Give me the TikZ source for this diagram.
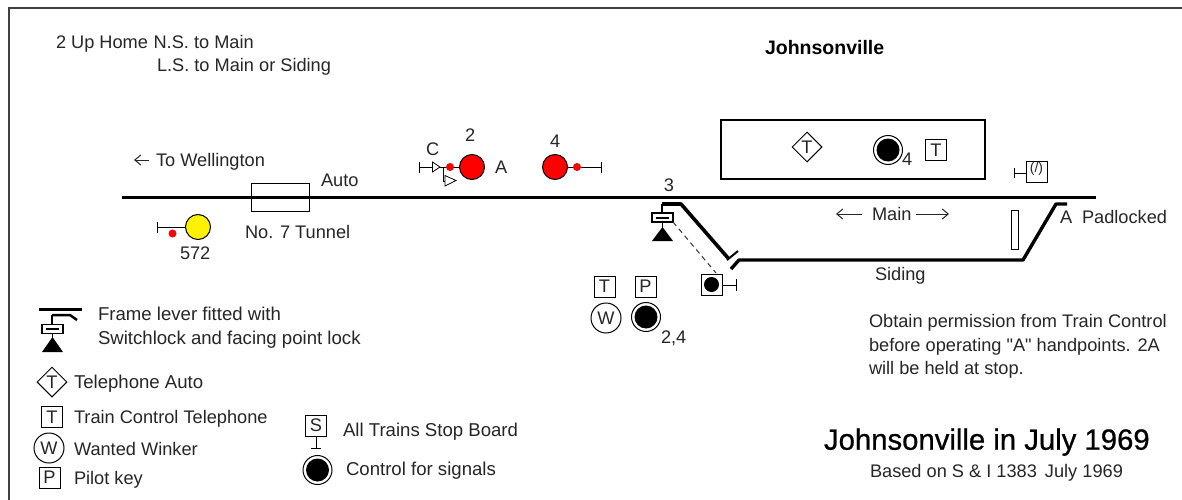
\documentclass[tikz,border=0pt]{standalone}
\usepackage{fontspec}
\setmainfont{Liberation Sans}[Ligatures=TeXOff]
\newfontfamily\bigfont{Liberation Sans}[FakeBold=0.7]
\usetikzlibrary{shapes.geometric,arrows.meta}
\newcommand{\bodyfont}{\fontsize{18.2}{18.2}\selectfont}
\newcommand{\widefont}{\fontsize{18.6}{18.6}\selectfont}
\tikzset{
  x=1pt,y=-1pt,
  txt/.style={anchor=base west,inner sep=0pt,outer sep=0pt,text=black!85,font=\bodyfont,yshift=-0.7pt},
  ctr/.style={inner sep=0pt,outer sep=0pt,text=black!85,font=\bodyfont},
  frameline/.style={line width=1.3pt,black!75},
  track/.style={line width=3pt,black},
  sqbox/.style={draw=black,line width=1pt,minimum size=21pt,inner sep=0pt,fill=white,text=black!85,font=\bodyfont},
  diam/.style={draw=black,line width=1pt,diamond,aspect=1,minimum size=30pt,inner sep=0pt,fill=white,text=black!85,font=\bodyfont},
  winker/.style={draw=black,line width=1pt,circle,minimum size=30pt,inner sep=0pt,fill=white,text=black!85,font=\bodyfont},
  ctrlring/.style={draw=black,line width=1pt,circle,minimum size=29pt,inner sep=0pt,fill=white},
  ctrlcore/.style={fill=black,circle,minimum size=23pt,inner sep=0pt},
  redsig/.style={draw=black,line width=1pt,circle,minimum size=25pt,inner sep=0pt,fill=red},
  yelsig/.style={draw=black,line width=1pt,circle,minimum size=25pt,inner sep=0pt,fill=yellow},
  reddot/.style={fill=red,circle,minimum size=8pt,inner sep=0pt},
  arm/.style={line width=1pt,black},
  lockbox/.style={draw=black,line width=1.2pt,minimum width=21pt,minimum height=9pt,inner sep=0pt,fill=white},
  pointer/.style={draw=black,line width=.8pt,fill=white},
  flow/.style={-{Straight Barb[length=6pt,width=10pt]},line width=1pt,black!85},
}
\begin{document}
\begin{tikzpicture}
\useasboundingbox (0,0) rectangle (1182,500);
\fill[white] (0,0) rectangle (1182,500);
% frame
\coordinate (fa) at (9,500); \coordinate (fb) at (9,8); \coordinate (fc) at (1182,8);
\draw[frameline] (fa) -- (fb) -- (fc);
% header text
\node[txt] (h1) at (56,47.5) {2 Up Home\hspace{0.5pt} N.S. to Main};
\node[txt] (h2) at (157,71) {L.S. to Main or Siding};
\node[txt,font=\fontsize{19.5}{19.5}\selectfont\bfseries,text=black] (ttl) at (765,54) {Johnsonville};
% main line
\coordinate (mw) at (122,197); \coordinate (me) at (1096,197);
\draw[track] (mw) -- (me);
% wellington
\node[txt] (tw) at (156,165.5) {To Wellington};
\coordinate (twa) at (134,160); \coordinate (twb) at (149,160);
\draw[flow] (twb) -- (twa);
% tunnel
\node[draw=black,line width=1pt,minimum width=58pt,minimum height=28pt,inner sep=0pt] (tun) at (280,197) {};
\node[txt] (auto) at (321,185.5) {Auto};
\node[txt] (tunl) at (245,237.5) {No. 7 Tunnel};
% signal 572
\node[yelsig] (s572) at (198,227) {};
\coordinate (e572) at (157,227);
\draw[arm] (s572) -- (e572);
\draw[arm] (157,222) -- (157,233);
\node[reddot] (d572) at (172.5,233.5) {};
\node[txt] (l572) at (180,259) {572};
% signal 2
\node[redsig] (s2) at (472,167) {};
\coordinate (e2) at (419,167);
\draw[arm] (s2) -- (e2);
\draw[arm] (419,162) -- (419,173);
\node[reddot] (d2) at (450,167) {};
\draw[pointer] (432.5,162) -- (440,167) -- (432.5,172) -- cycle;
\draw[arm] (443,167) -- (443,181) -- (446,181);
\draw[pointer] (445,175.5) -- (456,180.5) -- (445,186) -- cycle;
\node[txt] (lc) at (426,154.5) {C};
\node[txt] (l2) at (465,140.5) {2};
\node[txt] (la) at (495,172.5) {A};
% signal 4
\node[redsig] (s4) at (555,167) {};
\coordinate (e4) at (601,167);
\draw[arm] (s4) -- (e4);
\draw[arm] (601,162) -- (601,173);
\node[reddot] (d4) at (577,167) {};
\node[txt] (l4) at (550,146.5) {4};
% building
\node[draw=black,line width=1.3pt,minimum width=264pt,minimum height=59pt,inner sep=0pt] (bld) at (853,149.5) {};
\node[diam] (dt) at (807,147) {T};
\node[ctrlring] (c4) at (888,150) {};
\node[ctrlcore] at (c4) {};
\node[txt] (l4b) at (902,165) {4};
\node[sqbox] (tb) at (936,150) {T};
% padlock box
\node[sqbox] (pb) at (1036.5,171.5) {};
\node[inner sep=0pt,font=\fontsize{14}{14}\selectfont,text=black!85] at (1036.5,169) {(/)};
\coordinate (pe) at (1014,173);
\draw[arm] (pb.west |- pe) -- (pe);
\draw[arm] (1014,168) -- (1014,178);
% points
\node[ctr] (l3) at (669,185) {3};
\coordinate (p0) at (662,212); \coordinate (p1) at (662,204); \coordinate (p2) at (681,204); \coordinate (p3) at (728,258);
\draw[line width=1.5pt] (p0) -- (p1);
\draw[line width=3.6pt,black,line join=round] (p1) -- (p2) -- (p3);
\coordinate (t1) at (727,260); \coordinate (t2) at (738,251);
\draw[line width=2pt] (t1) -- (t2);
\coordinate (sa) at (731,269); \coordinate (sb) at (739,260); \coordinate (sc) at (1023,260); \coordinate (sd) at (1056,204); \coordinate (se) at (1067,204);
\draw[line width=3.4pt,black,line join=round] (sa) -- (sb) -- (sc) -- (sd) -- (se);
\node[lockbox] (lb) at (662.5,217.5) {};
\coordinate (lba) at (656,217.5); \coordinate (lbb) at (669,217.5);
\draw[line width=2pt] (lba) -- (lbb);
\path[fill=black] (662.5,227) -- (673,241) -- (652,241) -- cycle;
\coordinate (tap) at (662.5,228);
\draw[line width=1pt] (lb) -- (tap);
\coordinate (pte) at (736,285);
\draw[line width=1pt,black!80,dashed,dash pattern=on 5pt off 4pt] (673,222) -- (716,273);
\node[sqbox] (ptb2) at (711.5,284.5) {};
\node[fill=black,circle,minimum size=15pt,inner sep=0pt] at (ptb2) {};
\draw[arm] (ptb2.east |- pte) -- (pte);
\draw[arm] (736,279) -- (736,291);
% main arrows
\node[txt] (mn) at (872,219.5) {Main};
\coordinate (mna) at (836,214); \coordinate (mnb) at (862,214);
\coordinate (mnc) at (916,214); \coordinate (mnd) at (949,214);
\draw[flow] (mnb) -- (mna);
\draw[flow] (mnc) -- (mnd);
\node[txt] (sdg) at (875,279.5) {Siding};
\node[draw=black,line width=1pt,minimum width=7pt,minimum height=39pt,inner sep=0pt] (cl) at (1014.5,229.5) {};
\node[txt] (la2) at (1060,222.5) {A};
\node[txt] (pad) at (1082,222.5) {Padlocked};
% instrument group
\node[sqbox] (t2b) at (604.5,286.5) {T};
\node[sqbox] (p2b) at (645.5,286.5) {P};
\node[winker] (w2) at (606,318) {W};
\node[ctrlring] (c2) at (646,317) {};
\node[ctrlcore] at (c2) {};
\node[txt] (l24) at (661,342.5) {2,4};
% legend lever
\coordinate (ll1) at (39,309); \coordinate (ll2) at (82,309);
\draw[track] (ll1) -- (ll2);
\coordinate (lv0) at (52,325); \coordinate (lv1) at (52,315); \coordinate (lv2) at (70,315); \coordinate (lv3) at (77,320);
\draw[line width=1.5pt] (lv0) -- (lv1);
\draw[line width=2.5pt] (lv1) -- (lv2) -- (lv3);
\node[lockbox] (lgb) at (52.5,329) {};
\coordinate (lgba) at (46,329); \coordinate (lgbb) at (59,329);
\draw[line width=2pt] (lgba) -- (lgbb);
\path[fill=black] (52.5,337) -- (63,352) -- (42,352) -- cycle;
\coordinate (lgt) at (52.5,338);
\draw[line width=1pt] (lgb) -- (lgt);
\node[txt,font=\widefont] (lg1) at (98,319.5) {Frame lever fitted with};
\node[txt,font=\widefont] (lg2) at (98,343.5) {Switchlock and facing point lock};
\node[diam] (lgd) at (52,382) {T};
\node[txt,font=\widefont] (lg3) at (74,387.5) {Telephone Auto};
\node[sqbox] (lgt2) at (52,417) {T};
\node[txt] (lg4) at (74,422.5) {Train Control Telephone};
\node[winker] (lgw) at (49,448) {W};
\node[txt] (lg5) at (74,454.5) {Wanted Winker};
\node[sqbox] (lgp) at (49.5,477.5) {P};
\node[txt] (lg6) at (74,483.5) {Pilot key};
\coordinate (lgse) at (316,448);
\draw[arm] (316,436) -- (lgse);
\draw[arm] (311,448) -- (321,448);
\node[sqbox] (lgs2) at (316,425.5) {S};
\node[ctrlring] (lgc) at (317.5,470) {};
\node[ctrlcore] at (lgc) {};
\node[txt,font=\widefont] (lg7) at (343,435.5) {All Trains Stop Board};
\node[txt,font=\widefont] (lg8) at (346,474.5) {Control for signals};
% notes
\node[txt] (n1) at (869,326.5) {Obtain permission from Train Control};
\node[txt] (n2) at (869,350.5) {before operating "A" handpoints. 2A};
\node[txt] (n3) at (869,373.5) {will be held at stop.};
\node[txt,font=\bigfont\fontsize{29.3}{29.3}\selectfont,text=black] (big) at (824,449) {Johnsonville in July 1969};
\node[txt] (sub) at (870,476.5) {Based on S \& I 1383\hspace{3pt} July 1969};
\end{tikzpicture}
\end{document}
